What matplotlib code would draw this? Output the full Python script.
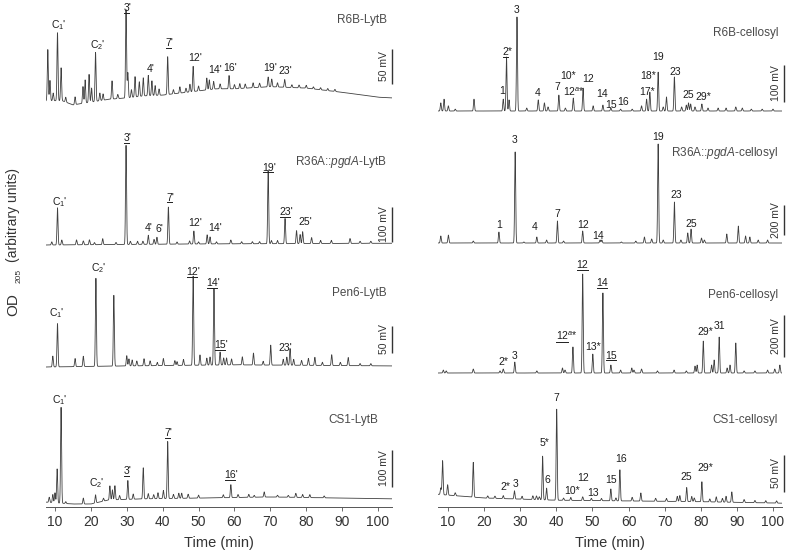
import numpy as np
import matplotlib
matplotlib.use("Agg")
import matplotlib.pyplot as plt
from matplotlib.lines import Line2D

plt.rcParams['font.family'] = ['Liberation Sans', 'DejaVu Sans']
plt.rcParams['mathtext.fontset'] = 'custom'
plt.rcParams['mathtext.rm'] = 'Liberation Sans'
plt.rcParams['mathtext.it'] = 'Liberation Sans:italic'
plt.rcParams['mathtext.bf'] = 'Liberation Sans:bold'

# ------------------------------------------------------------------ data
TIME_TICKS = [10, 20, 30, 40, 50, 60, 70, 80, 90, 100]
X_LABEL = "Time (min)"

TITLES = ["R6B-LytB", "R6B-cellosyl",
          r"R36A::$\mathit{pgdA}$-LytB", r"R36A::$\mathit{pgdA}$-cellosyl",
          "Pen6-LytB", "Pen6-cellosyl",
          "CS1-LytB", "CS1-cellosyl"]
SCALE_MV = [50, 100, 100, 200, 50, 200, 100, 50]

# peak retention times (min) and heights (mV) per chromatogram
R6B_LYTB_T = [8.0, 8.6, 9.5, 10.7, 11.7, 13.0, 15.6, 17.8, 18.4, 19.5, 20.2, 21.3, 22.5, 23.4,
              25.9, 27.5, 29.8, 30.3, 31.3, 32.3, 33.5, 34.6, 36.0, 37.0, 37.9, 39.0, 41.4, 43.0,
              44.8, 46.5, 47.6, 48.5, 50.0, 52.3, 53.0, 54.2, 56.0, 58.5, 60.0, 61.5, 63.0, 65.2,
              67.0, 69.4, 70.4, 72.0, 74.0, 76, 78, 80, 82, 84, 86, 88]
R6B_LYTB_H = [73, 29, 11, 97, 47, 7, 11, 24, 33, 40, 20, 70, 11, 9,
              26, 6, 126, 36, 11, 29, 21, 26, 29, 21, 14, 9, 54, 6,
              9, 6, 11, 36, 7, 17, 14, 11, 7, 19, 6, 7, 6, 7,
              6, 14, 11, 6, 11, 4, 4, 4, 3, 3, 3, 3]
R6B_LYTB_BASE_T = [7.5, 12, 15, 20, 25, 30, 35, 40, 45, 50, 55, 60, 70, 80, 90, 100, 104]
R6B_LYTB_BASE_V = [-1, -1, -7, -3, 1, 3, 6, 7, 10, 13, 16, 16, 19, 17, 11, 4, 3]

R6B_CELL_T = [8.0, 8.9, 10.1, 12, 17.2, 25.3, 26.2, 26.9, 29.1, 31.8, 35.0, 36.7, 37.7, 40.7,
              42.5, 44.7, 47.4, 50.2, 52.9, 55.1, 57.8, 61, 63.6, 65.0, 65.9, 68.2, 69.6, 70.5,
              72.7, 74.7, 76.0, 76.6, 77.2, 78.4, 80.3, 82.0, 84.8, 87, 89.7, 91.5, 94, 97, 100]
R6B_CELL_H = [22, 32, 14, 5, 32, 32, 146, 30, 254, 8, 30, 22, 11, 43,
              8, 35, 62, 14, 16, 8, 5, 5, 14, 32, 51, 105, 11, 38,
              92, 11, 16, 22, 19, 11, 19, 8, 8, 8, 11, 8, 5, 5, 5]
R6B_CELL_BASE_T = [7.2, 102.5]
R6B_CELL_BASE_V = [0, 0]

R36A_LYTB_T = [9.1, 10.7, 11.9, 16.0, 17.9, 19.6, 21, 23.3, 27, 29.8, 31, 33, 34.5, 36.0,
               37.6, 38.4, 41.6, 44, 47.5, 48.7, 50, 52.4, 53.2, 55, 59.0, 62, 65, 67,
               69.4, 70.3, 72, 74.1, 77.3, 78.3, 79.0, 81.5, 84, 87, 92.2, 95, 98]
R36A_LYTB_H = [9, 106, 14, 14, 11, 14, 6, 17, 6, 283, 9, 9, 9, 26,
               14, 20, 106, 6, 9, 37, 6, 26, 20, 6, 11, 6, 6, 6,
               209, 9, 9, 72, 37, 26, 34, 17, 9, 9, 14, 6, 6]
R36A_LYTB_BASE_T = [7.5, 50, 104]
R36A_LYTB_BASE_V = [0, 3, 5]

R36A_CELL_T = [8.0, 10.1, 17.0, 24.1, 28.6, 31, 34.6, 37.3, 40.3, 42, 47.3, 52.1, 52.6, 58,
               62, 64.4, 66.4, 68.2, 69.6, 72.7, 74.5, 76.4, 77.3, 80.2, 81.0, 87.2, 90.4,
               92.4, 93.6, 95.9, 98.5]
R36A_CELL_H = [47, 53, 13, 73, 607, 7, 40, 20, 147, 13, 80, 20, 20, 7,
               13, 40, 27, 660, 20, 273, 20, 67, 93, 33, 20, 60, 113,
               47, 40, 20, 20]
R36A_CELL_BASE_T = [7.2, 102.5]
R36A_CELL_BASE_V = [0, 0]

PEN6_LYTB_T = [9.4, 10.7, 15.6, 17.9, 21.4, 26.4, 30.0, 30.6, 31.5, 32.8, 34.8, 36.5, 38.5,
               40.2, 43.4, 44.0, 45.8, 48.5, 50.4, 52.3, 53.2, 54.3, 56.0, 57.0, 57.8, 59.2,
               62.2, 65.3, 68, 70.1, 73.6, 74.6, 75.5, 76.5, 78.7, 80.6, 82.4, 84.5, 87.1,
               89.5, 91.7, 95, 98]
PEN6_LYTB_H = [20, 80, 15, 19, 163, 131, 19, 13, 11, 9, 13, 9, 6,
               13, 9, 7, 11, 165, 19, 13, 15, 142, 24, 13, 13, 11,
               15, 22, 7, 37, 11, 15, 31, 11, 9, 13, 15, 6, 20,
               6, 15, 4, 4]
PEN6_LYTB_BASE_T = [7.5, 30, 60, 104]
PEN6_LYTB_BASE_V = [0, 2, 4, 2]

PEN6_CELL_T = [8.7, 9.5, 17.0, 24.4, 25.3, 28.5, 34.6, 41.7, 42.4, 44.6, 47.3, 50.1, 52.9,
               55.1, 57.8, 60.9, 61.5, 63.6, 68, 72.6, 76, 78.4, 79.0, 80.7, 83.0, 83.7,
               85.1, 87.3, 88.1, 89.7, 92, 95, 98.5, 100.5, 101.9]
PEN6_CELL_H = [14, 10, 19, 10, 19, 52, 10, 24, 14, 124, 471, 90, 381,
               38, 14, 24, 14, 19, 10, 14, 10, 33, 38, 152, 38, 62,
               171, 24, 38, 143, 10, 10, 14, 19, 38]
PEN6_CELL_BASE_T = [7.2, 102.5]
PEN6_CELL_BASE_V = [0, 0]

CS1_LYTB_T = [8.4, 9.4, 10.0, 10.6, 11.7, 13, 17.9, 21.3, 23.5, 25.3, 26.0, 26.7, 28, 30.3,
              31.8, 34.6, 36.0, 37.5, 38.7, 40.2, 41.4, 43, 44.5, 45.3, 47.1, 50, 56.9, 59.0,
              61, 64, 65.5, 68.3, 72, 75, 77.1, 79, 81, 85]
CS1_LYTB_H = [14, 22, 27, 92, 259, 5, 16, 22, 8, 38, 27, 38, 11, 51,
              14, 84, 14, 11, 16, 22, 154, 11, 14, 14, 11, 8, 8, 35,
              8, 8, 5, 14, 5, 5, 11, 8, 8, 5]
CS1_LYTB_BASE_T = [7.5, 15, 20, 25, 35, 50, 70, 90, 104]
CS1_LYTB_BASE_V = [5, 0, 0, 11, 14, 16, 19, 16, 14]

CS1_CELL_T = [8.0, 8.5, 9.9, 12.0, 17.0, 21, 23, 25.3, 28.4, 30.5, 33.5, 34.5, 35.3, 36.2,
              37.3, 40.1, 42, 44.0, 47.3, 49.7, 52.5, 55.1, 56.5, 57.6, 61, 63.4, 67.5, 70.5,
              73.5, 74.2, 76.1, 77.5, 78.2, 80.3, 82.5, 84.3, 86.0, 87.0, 88.6, 92, 95, 98, 101]
CS1_CELL_H = [9, 46, 14, 4, 47, 3, 3, 4, 11, 4, 5, 5, 4, 59,
              16, 123, 3, 4, 5, 3, 3, 16, 4, 42, 5, 11, 4, 4,
              7, 8, 19, 7, 5, 27, 4, 7, 5, 8, 14, 4, 3, 3, 3]
CS1_CELL_BASE_T = [7.2, 20, 40, 60, 80, 102.5]
CS1_CELL_BASE_V = [5, 0, -3, -4, -5, -7]

# peak labels: text, retention time (min) they sit over
LBL_R6B_LYTB = [("C$_1$'", 11.0), ("C$_2$'", 22.0), ("3'", 30.2), ("4'", 36.7), ("7'", 42.0),
                ("12'", 49.0), ("14'", 54.6), ("16'", 58.8), ("19'", 69.9), ("23'", 74.2)]
LBL_R6B_CELL = [("3", 29.0), ("2*", 26.4), ("1", 25.0), ("4", 34.8), ("7", 40.3),
                ("12$^{a}$*", 44.9), ("10*", 43.3), ("12", 48.9), ("14", 52.6),
                ("15", 55.1), ("16", 58.6), ("17*", 65.0), ("18*", 65.5),
                ("19", 68.2), ("23", 72.9), ("25", 76.5), ("29*", 80.7)]
LBL_R36A_LYTB = [("C$_1$'", 11.2), ("3'", 30.3), ("4'", 36.0), ("6'", 39.0), ("7'", 42.2),
                 ("12'", 49.0), ("14'", 54.6), ("19'", 69.7), ("23'", 74.4), ("25'", 79.7)]
LBL_R36A_CELL = [("3", 28.4), ("1", 24.1), ("4", 34.1), ("7", 40.3), ("12", 47.3),
                 ("14", 51.6), ("19", 68.1), ("23", 73.3), ("25", 77.3)]
LBL_PEN6_LYTB = [("C$_1$'", 10.5), ("C$_2$'", 22.1), ("12'", 48.5), ("14'", 54.1),
                 ("15'", 56.4), ("23'", 74.1)]
LBL_PEN6_CELL = [("12", 47.2), ("14", 52.6), ("12$^{a}$*", 42.9), ("13*", 50.2),
                 ("15", 55.1), ("2*", 25.3), ("3", 28.4), ("29*", 81.2), ("31", 85.3)]
LBL_CS1_LYTB = [("C$_1$'", 11.4), ("C$_2$'", 21.6), ("3'", 30.3), ("7'", 41.6), ("16'", 59.2)]
LBL_CS1_CELL = [("7", 40.1), ("5*", 36.6), ("6", 37.5), ("2*", 25.8), ("3", 28.6),
                ("10*", 44.3), ("12", 47.3), ("13", 50.1), ("15", 55.1), ("16", 57.9),
                ("25", 76.1), ("29*", 81.4)]

# ------------------------------------------------------------------ layout (pixels)
W, H = 787, 555
COLS = [dict(x0=46, x1=392, xlim=(7.5, 103.9), title_x=387, bar_x=392),
        dict(x0=438, x1=782, xlim=(7.23, 102.5), title_x=778, bar_x=784)]
ROWS = [(0, 118), (128, 255), (255, 382), (385, 507)]

# per panel: baseline pixel, scale bar (top px, bottom px), title y px,
# label y px list, underline fraction list (0 = none)
LAYOUT = [
    dict(base=100, bar=(49, 84), title_y=20,
         ly=[25, 45, 8, 69, 43, 58, 70, 68, 68, 71],
         ul=[0, 0, .7, 0, .7, 0, 0, 0, 0, 0]),
    dict(base=111, bar=(65, 102), title_y=33,
         ly=[10, 52, 91, 93, 87, 92, 76, 79, 94, 105, 102, 92, 76, 57, 72, 95, 97],
         ul=[0, .55, 0, 0, 0, 0, 0, 0, 0, 0, 0, 0, 0, 0, 0, 0, 0]),
    dict(base=245, bar=(207, 242), title_y=162,
         ly=[202, 138, 228, 229, 198, 223, 228, 168, 212, 222],
         ul=[0, .7, 0, 0, .7, 0, 0, .8, .8, 0]),
    dict(base=243, bar=(205, 235), title_y=153,
         ly=[140, 225, 227, 214, 225, 236, 137, 195, 224],
         ul=[0] * 9),
    dict(base=367, bar=(326, 353), title_y=293,
         ly=[313, 268, 272, 283, 345, 348],
         ul=[0, 0, .8, .8, .8, 0]),
    dict(base=373, bar=(315, 357), title_y=295,
         ly=[265, 283, 336, 347, 356, 362, 356, 332, 326],
         ul=[1, 1, .55, 0, 1, 0, 0, 0, 0]),
    dict(base=504, bar=(450, 487), title_y=420, title_x=378,
         ly=[400, 483, 471, 433, 475],
         ul=[0, 0, .7, .7, .8]),
    dict(base=498, bar=(455, 492), title_y=420,
         ly=[398, 443, 480, 487, 484, 491, 478, 493, 480, 459, 477, 468],
         ul=[0] * 12),
]

SERIES = [
    (R6B_LYTB_T, R6B_LYTB_H, R6B_LYTB_BASE_T, R6B_LYTB_BASE_V, LBL_R6B_LYTB),
    (R6B_CELL_T, R6B_CELL_H, R6B_CELL_BASE_T, R6B_CELL_BASE_V, LBL_R6B_CELL),
    (R36A_LYTB_T, R36A_LYTB_H, R36A_LYTB_BASE_T, R36A_LYTB_BASE_V, LBL_R36A_LYTB),
    (R36A_CELL_T, R36A_CELL_H, R36A_CELL_BASE_T, R36A_CELL_BASE_V, LBL_R36A_CELL),
    (PEN6_LYTB_T, PEN6_LYTB_H, PEN6_LYTB_BASE_T, PEN6_LYTB_BASE_V, LBL_PEN6_LYTB),
    (PEN6_CELL_T, PEN6_CELL_H, PEN6_CELL_BASE_T, PEN6_CELL_BASE_V, LBL_PEN6_CELL),
    (CS1_LYTB_T, CS1_LYTB_H, CS1_LYTB_BASE_T, CS1_LYTB_BASE_V, LBL_CS1_LYTB),
    (CS1_CELL_T, CS1_CELL_H, CS1_CELL_BASE_T, CS1_CELL_BASE_V, LBL_CS1_CELL),
]

TRACE_C = '#404040'
TEXT_C = '#1e1e1e'
TITLE_C = '#4a4a4a'
PEAK_SIGMA = 0.14


def chromatogram(t, times, heights, bt, bv):
    y = np.interp(t, bt, bv)
    for t0, h in zip(times, heights):
        y = y + h * np.exp(-0.5 * ((t - t0) / PEAK_SIGMA) ** 2)
    return y


fig = plt.figure(figsize=(W / 100, H / 100), dpi=100)
underlines = []

for i, (times, heights, bt, bv, labels) in enumerate(SERIES):
    row, col = divmod(i, 2)
    c = COLS[col]
    lay = LAYOUT[i]
    ytop, ybot = ROWS[row]
    base = lay['base']
    btop, bbot = lay['bar']
    s = SCALE_MV[i] / (bbot - btop)          # mV per pixel
    ax = fig.add_axes([c['x0'] / W, 1 - ybot / H, (c['x1'] - c['x0']) / W, (ybot - ytop) / H])
    ax.set_xlim(*c['xlim'])
    ax.set_ylim((base - ybot) * s, (base - ytop) * s)
    t = np.arange(c['xlim'][0], c['xlim'][1], 0.01)
    ax.plot(t, chromatogram(t, times, heights, bt, bv), color=TRACE_C, lw=0.6)

    for sp in ('top', 'left', 'right'):
        ax.spines[sp].set_visible(False)
    ax.set_yticks([])
    if row == 3:
        ax.spines['bottom'].set_color('#555555')
        ax.spines['bottom'].set_linewidth(0.7)
        ax.set_xticks(TIME_TICKS)
        ax.tick_params(axis='x', length=3, width=0.6, color='#555555',
                       labelsize=10, labelcolor='#333333', pad=3)
        ax.set_xlabel(X_LABEL, fontsize=10.5, color='#333333', labelpad=5)
    else:
        ax.spines['bottom'].set_visible(False)
        ax.set_xticks([])

    # labels
    for (txt, tm), ypx, ul in zip(labels, lay['ly'], lay['ul']):
        tobj = ax.text(tm, (base - ypx) * s, txt, ha='center', va='center',
                       fontsize=7.5, color=TEXT_C)
        if ul:
            underlines.append((tobj, ul))

    # title
    tx = lay.get('title_x', c['title_x'])
    fig.text(tx / W, 1 - lay['title_y'] / H, TITLES[i], ha='right', va='center',
             fontsize=8.5, color=TITLE_C)

    # scale bar
    xlo, xhi = c['xlim']
    xb = xlo + (c['bar_x'] - c['x0']) / (c['x1'] - c['x0']) * (xhi - xlo)
    y0 = (base - bbot) * s
    ax.plot([xb, xb], [y0, y0 + SCALE_MV[i]], color='#333333', lw=1.0, clip_on=False,
            solid_capstyle='butt')
    xl = xlo + (c['bar_x'] - 8 - c['x0']) / (c['x1'] - c['x0']) * (xhi - xlo)
    ax.text(xl, y0 + SCALE_MV[i] / 2, f"{SCALE_MV[i]} mV", rotation=90, ha='center',
            va='center', fontsize=7.5, color='#333333', clip_on=False)

# y label (rotated, three parts)
fig.text(13 / W, 1 - 305 / H, "OD", rotation=90, ha='center', va='center',
         fontsize=11, color='#333333')
fig.text(19 / W, 1 - 276 / H, "205", rotation=90, ha='center', va='center',
         fontsize=6, color='#333333')
fig.text(13 / W, 1 - 215 / H, "(arbitrary units)", rotation=90, ha='center', va='center',
         fontsize=10, color='#333333')

# underlines
fig.canvas.draw()
renderer = fig.canvas.get_renderer()
inv = fig.transFigure.inverted()
for tobj, frac in underlines:
    bb = tobj.get_window_extent(renderer)
    xa = bb.x0 + 0.5
    xb_ = bb.x0 + 0.5 + frac * (bb.width - 1)
    yy = bb.y0 + 0.5
    (fa, fy), (fb, _) = inv.transform([(xa, yy), (xb_, yy)])
    fig.add_artist(Line2D([fa, fb], [fy, fy], transform=fig.transFigure,
                          color=TEXT_C, lw=0.7))

fig.savefig("out.png", dpi=100)
